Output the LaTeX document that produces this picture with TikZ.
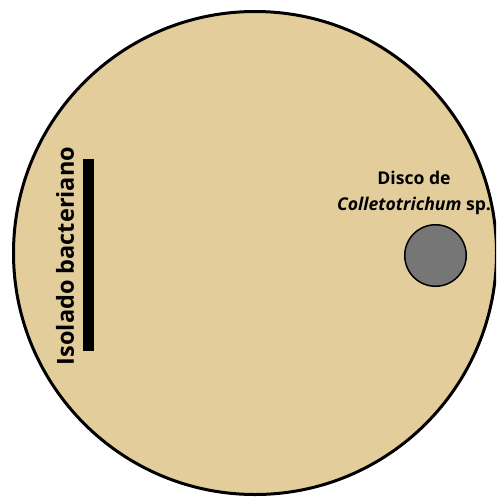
\documentclass[tikz,border=0pt]{standalone}
\usepackage{fontspec}
\setmainfont{Open Sans}
\definecolor{agar}{HTML}{E3CE9B}
\definecolor{disk}{HTML}{767676}
\begin{document}
\begin{tikzpicture}[x=1pt,y=-1pt,
  lbl/.style={inner sep=0pt, font=\bfseries\fontsize{17.6}{22}\selectfont, align=center}]
\useasboundingbox (0,0) rectangle (496,498);
\begin{scope}
\clip (0,0) rectangle (496,498);
\node[circle, draw=black, line width=3pt, fill=agar, minimum size=483pt, inner sep=0pt] (plate) at (255,253) {};
\end{scope}
\node[circle, draw=black, line width=1.5pt, fill=disk, minimum size=61.5pt, inner sep=0pt] (disco) at (435.5,255.5) {};
\node[fill=black, inner sep=0pt, minimum width=11pt, minimum height=192pt] (bar) at (88.5,255) {};
\node[lbl, rotate=90, font=\bfseries\fontsize{23.5}{26}\selectfont, anchor=center] (iso) at (65,256) {Isolado bacteriano};
\node[lbl, anchor=base] (dlab) at (414,184) {Disco de};
\node[lbl, anchor=base] (clab) at (414,210) {\textit{Colletotrichum} sp.};
\end{tikzpicture}
\end{document}
